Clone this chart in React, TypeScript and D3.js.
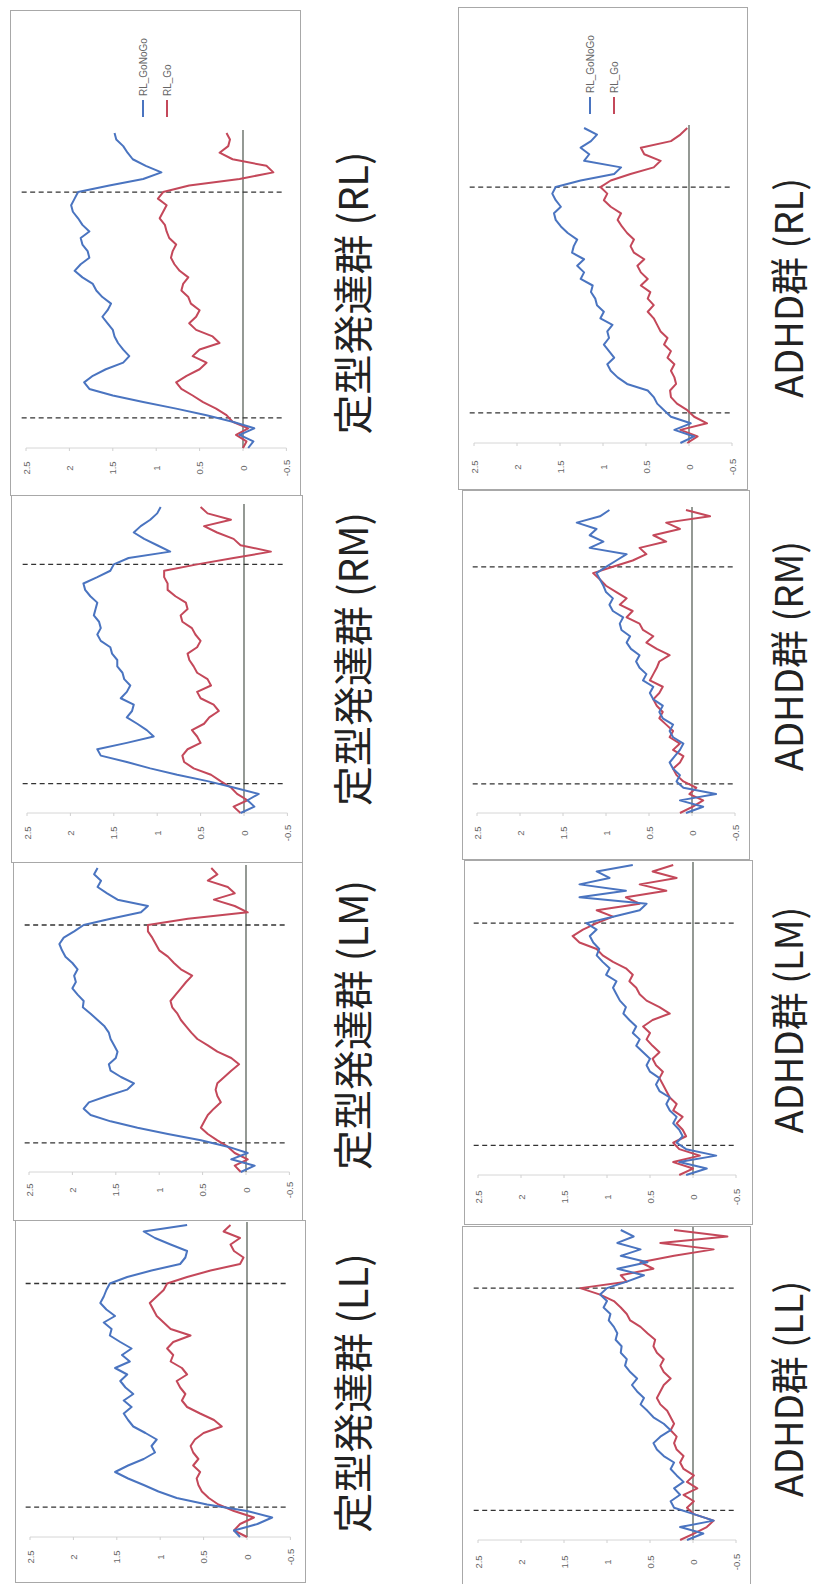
import React from 'react';
import * as d3 from 'd3';

// sample times (arbitrary units, 0..120); dashed markers at onset / offset
const SAMPLE_T = [0, 2.5, 5, 7.5, 10, 12.5, 15, 17.5, 20, 22.5, 25, 27.5, 30, 32.5, 35, 37.5, 40, 42.5, 45, 47.5, 50, 52.5, 55, 57.5, 60, 62.5, 65, 67.5, 70, 72.5, 75, 77.5, 80, 82.5, 85, 87.5, 90, 92.5, 95, 97.5, 100, 102.5, 105, 107.5, 110, 112.5, 115, 117.5, 120];
const ONSET_T = 11.5;
const OFFSET_T = 97.5;
const VALUE_TICKS = [2.5, 2, 1.5, 1, 0.5, 0, -0.5];
const SERIES_NAMES = ['RL_GoNoGo', 'RL_Go'];

// 定型発達群
const td_RL_GoNoGo = [-0.06, -0.12, 0.04, -0.13, 0.12, 0.42, 0.77, 1.15, 1.50, 1.77, 1.83, 1.73, 1.58, 1.38, 1.31, 1.38, 1.44, 1.48, 1.50, 1.56, 1.62, 1.56, 1.52, 1.62, 1.69, 1.73, 1.85, 1.94, 1.87, 1.77, 1.79, 1.85, 1.87, 1.77, 1.85, 1.90, 1.96, 1.98, 1.94, 1.90, 1.54, 1.15, 0.94, 1.12, 1.27, 1.33, 1.38, 1.46, 1.48];
const td_RL_Go = [0.0, -0.04, 0.08, -0.06, 0.12, 0.19, 0.31, 0.46, 0.58, 0.71, 0.77, 0.65, 0.50, 0.42, 0.58, 0.50, 0.27, 0.35, 0.54, 0.62, 0.54, 0.50, 0.60, 0.63, 0.71, 0.69, 0.63, 0.73, 0.79, 0.83, 0.81, 0.77, 0.85, 0.88, 0.90, 0.96, 0.92, 0.88, 0.98, 0.92, 0.62, 0.04, -0.35, -0.27, 0.12, 0.27, 0.17, 0.15, 0.19];
const td_RM_GoNoGo = [0.04, -0.12, -0.04, -0.17, 0.12, 0.42, 0.77, 1.08, 1.35, 1.65, 1.69, 1.35, 1.04, 1.12, 1.23, 1.35, 1.29, 1.27, 1.42, 1.35, 1.31, 1.38, 1.40, 1.46, 1.46, 1.52, 1.54, 1.65, 1.69, 1.65, 1.67, 1.73, 1.71, 1.69, 1.77, 1.83, 1.85, 1.69, 1.54, 1.50, 1.33, 0.85, 1.00, 1.15, 1.27, 1.19, 1.08, 1.00, 0.96];
const td_RM_Go = [0.04, 0.12, -0.04, 0.08, 0.15, 0.27, 0.38, 0.58, 0.69, 0.71, 0.65, 0.50, 0.54, 0.60, 0.46, 0.40, 0.29, 0.35, 0.50, 0.54, 0.38, 0.42, 0.54, 0.58, 0.63, 0.65, 0.54, 0.50, 0.56, 0.60, 0.71, 0.73, 0.65, 0.67, 0.79, 0.88, 0.88, 0.92, 0.92, 0.54, 0.12, -0.31, 0.04, 0.12, 0.31, 0.46, 0.15, 0.42, 0.50];
const td_LM_GoNoGo = [0.06, -0.10, 0.17, -0.02, 0.21, 0.52, 0.90, 1.25, 1.56, 1.79, 1.87, 1.81, 1.60, 1.37, 1.29, 1.44, 1.56, 1.58, 1.50, 1.48, 1.52, 1.56, 1.58, 1.63, 1.71, 1.79, 1.88, 1.87, 1.94, 2.00, 1.96, 1.98, 1.94, 2.00, 2.08, 2.12, 2.15, 2.10, 1.98, 1.87, 1.56, 1.21, 1.13, 1.48, 1.60, 1.71, 1.67, 1.75, 1.71];
const td_LM_Go = [0.06, 0.13, -0.02, 0.13, 0.21, 0.33, 0.44, 0.52, 0.48, 0.44, 0.37, 0.29, 0.33, 0.35, 0.33, 0.25, 0.17, 0.08, 0.17, 0.33, 0.44, 0.56, 0.63, 0.69, 0.75, 0.79, 0.85, 0.87, 0.81, 0.75, 0.69, 0.62, 0.75, 0.83, 0.90, 1.00, 1.04, 1.08, 1.13, 1.13, 0.67, -0.02, 0.13, 0.37, 0.13, 0.21, 0.44, 0.33, 0.40];
const td_LL_GoNoGo = [0.08, 0.15, -0.12, -0.29, 0.0, 0.46, 0.81, 1.02, 1.19, 1.37, 1.52, 1.37, 1.19, 1.06, 1.10, 1.04, 1.17, 1.31, 1.37, 1.42, 1.33, 1.42, 1.31, 1.40, 1.46, 1.38, 1.52, 1.35, 1.44, 1.33, 1.46, 1.58, 1.56, 1.65, 1.52, 1.62, 1.69, 1.65, 1.62, 1.58, 1.38, 1.10, 0.77, 0.71, 0.69, 0.88, 1.06, 1.19, 0.69];
const td_LL_Go = [0.0, 0.15, 0.08, -0.08, 0.15, 0.33, 0.44, 0.52, 0.56, 0.58, 0.54, 0.62, 0.56, 0.62, 0.65, 0.60, 0.50, 0.29, 0.38, 0.54, 0.69, 0.75, 0.71, 0.77, 0.81, 0.69, 0.75, 0.88, 0.85, 0.92, 0.85, 0.65, 0.88, 0.96, 1.04, 1.08, 1.12, 1.04, 0.96, 0.92, 0.69, 0.42, 0.08, 0.04, 0.15, 0.19, 0.08, 0.27, 0.19];

// ADHD群
const adhd_RL_GoNoGo = [0.10, -0.06, 0.17, -0.02, 0.21, 0.29, 0.37, 0.41, 0.48, 0.72, 0.83, 0.91, 0.95, 0.87, 0.93, 0.99, 0.93, 0.95, 0.89, 1.03, 0.99, 1.07, 1.09, 1.14, 1.12, 1.26, 1.22, 1.30, 1.22, 1.36, 1.34, 1.30, 1.41, 1.49, 1.55, 1.57, 1.49, 1.55, 1.59, 1.55, 1.26, 0.87, 0.79, 1.22, 1.16, 1.26, 1.14, 1.07, 1.22];
const adhd_RL_Go = [0.02, -0.10, 0.10, -0.21, -0.06, 0.02, 0.14, 0.21, 0.22, 0.15, 0.17, 0.21, 0.17, 0.25, 0.21, 0.29, 0.25, 0.33, 0.37, 0.41, 0.48, 0.41, 0.48, 0.45, 0.56, 0.48, 0.56, 0.60, 0.52, 0.64, 0.68, 0.64, 0.72, 0.78, 0.83, 0.79, 0.91, 0.99, 0.95, 1.03, 0.91, 0.68, 0.41, 0.33, 0.52, 0.56, 0.21, 0.10, 0.02];
const adhd_RM_GoNoGo = [0.07, -0.13, 0.14, -0.28, 0.10, 0.18, 0.14, 0.22, 0.26, 0.20, 0.14, 0.10, 0.22, 0.26, 0.22, 0.34, 0.38, 0.34, 0.45, 0.49, 0.45, 0.57, 0.53, 0.61, 0.65, 0.61, 0.71, 0.76, 0.72, 0.82, 0.84, 0.80, 0.92, 0.96, 0.92, 1.00, 1.03, 1.07, 1.11, 1.00, 0.88, 0.76, 1.19, 1.03, 1.19, 1.11, 1.34, 1.07, 0.96];
const adhd_RM_Go = [0.14, -0.01, -0.13, 0.03, -0.05, 0.10, 0.18, 0.22, 0.14, 0.10, 0.22, 0.14, 0.26, 0.22, 0.30, 0.38, 0.34, 0.41, 0.45, 0.38, 0.34, 0.49, 0.45, 0.41, 0.38, 0.26, 0.41, 0.53, 0.45, 0.57, 0.61, 0.76, 0.69, 0.84, 0.76, 0.88, 1.00, 1.07, 1.15, 0.92, 0.69, 0.53, 0.61, 0.30, 0.45, 0.14, 0.30, -0.21, 0.07];
const adhd_LM_GoNoGo = [0.08, -0.16, 0.16, -0.27, 0.08, 0.19, 0.12, 0.16, 0.23, 0.19, 0.27, 0.31, 0.27, 0.39, 0.43, 0.39, 0.50, 0.54, 0.50, 0.58, 0.66, 0.62, 0.70, 0.66, 0.74, 0.81, 0.78, 0.85, 0.89, 0.93, 0.89, 1.01, 0.97, 1.05, 1.12, 1.09, 1.16, 1.20, 1.12, 1.24, 0.93, 0.62, 0.54, 1.32, 0.78, 1.32, 0.97, 1.12, 0.70];
const adhd_LM_Go = [0.16, 0.0, 0.23, -0.08, 0.16, 0.23, 0.08, 0.12, 0.19, 0.12, 0.23, 0.19, 0.27, 0.31, 0.35, 0.39, 0.35, 0.43, 0.47, 0.39, 0.47, 0.54, 0.50, 0.58, 0.47, 0.27, 0.39, 0.54, 0.62, 0.66, 0.74, 0.70, 0.78, 0.93, 1.05, 1.12, 1.32, 1.40, 1.28, 1.12, 0.93, 1.12, 0.62, 0.78, 0.31, 0.62, 0.19, 0.47, 0.23];
const adhd_LL_GoNoGo = [0.07, -0.12, 0.15, -0.24, -0.01, 0.22, 0.26, 0.15, 0.22, 0.11, 0.19, 0.26, 0.22, 0.34, 0.42, 0.46, 0.38, 0.26, 0.34, 0.46, 0.53, 0.61, 0.57, 0.65, 0.71, 0.65, 0.73, 0.79, 0.77, 0.84, 0.83, 0.90, 0.88, 0.92, 0.98, 0.96, 1.04, 1.00, 1.08, 1.00, 0.77, 0.57, 0.88, 0.53, 0.84, 0.61, 0.88, 0.69, 0.84];
const adhd_LL_Go = [0.15, -0.01, -0.16, -0.24, -0.01, 0.07, -0.01, 0.11, -0.05, 0.07, -0.01, 0.11, 0.15, 0.11, 0.19, 0.22, 0.19, 0.26, 0.22, 0.26, 0.30, 0.38, 0.42, 0.38, 0.34, 0.26, 0.34, 0.38, 0.34, 0.42, 0.46, 0.44, 0.53, 0.61, 0.73, 0.77, 0.84, 0.92, 1.08, 1.31, 0.77, 0.84, 0.46, 0.61, 0.22, -0.24, 0.38, -0.40, 0.22];

const TD_LABEL = '定型発達群';
const ADHD_LABEL = 'ADHD群';

// layout (pixel geometry of each panel in the page)
type Layout = {
  box: [number, number, number, number];
  zeroX: number; unit: number; axisY: number; topY: number; tickY: number;
  labelX: number; labelY: number; labelSize: number;
  legend?: { x1: number; x2: number };
};

const PANELS: { group: string; region: string; blue: number[]; red: number[]; layout: Layout }[] = [
  { group: TD_LABEL, region: 'RL', blue: td_RL_GoNoGo, red: td_RL_Go,
    layout: { box: [10, 10, 300, 495], zeroX: 243, unit: 86.8, axisY: 448, topY: 133, tickY: 468, labelX: 351, labelY: 293, labelSize: 40, legend: { x1: 143, x2: 167 } } },
  { group: TD_LABEL, region: 'RM', blue: td_RM_GoNoGo, red: td_RM_Go,
    layout: { box: [11, 495, 302, 862], zeroX: 244, unit: 86.8, axisY: 813, topY: 507, tickY: 833, labelX: 351, labelY: 659, labelSize: 40 } },
  { group: TD_LABEL, region: 'LM', blue: td_LM_GoNoGo, red: td_LM_Go,
    layout: { box: [13, 862, 302, 1220], zeroX: 246, unit: 86.8, axisY: 1172, topY: 868, tickY: 1190, labelX: 351, labelY: 1025, labelSize: 40 } },
  { group: TD_LABEL, region: 'LL', blue: td_LL_GoNoGo, red: td_LL_Go,
    layout: { box: [15, 1220, 305, 1582], zeroX: 247, unit: 86.8, axisY: 1537, topY: 1225, tickY: 1557, labelX: 351, labelY: 1393, labelSize: 40 } },
  { group: ADHD_LABEL, region: 'RL', blue: adhd_RL_GoNoGo, red: adhd_RL_Go,
    layout: { box: [458, 7, 747, 489], zeroX: 689, unit: 86, axisY: 443, topY: 128, tickY: 467, labelX: 786, labelY: 288, labelSize: 38, legend: { x1: 590, x2: 614 } } },
  { group: ADHD_LABEL, region: 'RM', blue: adhd_RM_GoNoGo, red: adhd_RM_Go,
    layout: { box: [462, 490, 749, 859], zeroX: 692, unit: 86, axisY: 813, topY: 510, tickY: 833, labelX: 786, labelY: 656, labelSize: 38 } },
  { group: ADHD_LABEL, region: 'LM', blue: adhd_LM_GoNoGo, red: adhd_LM_Go,
    layout: { box: [464, 860, 752, 1224], zeroX: 693, unit: 86, axisY: 1175, topY: 865, tickY: 1197, labelX: 786, labelY: 1020, labelSize: 38 } },
  { group: ADHD_LABEL, region: 'LL', blue: adhd_LL_GoNoGo, red: adhd_LL_Go,
    layout: { box: [462, 1226, 750, 1590], zeroX: 693, unit: 86, axisY: 1540, topY: 1230, tickY: 1562, labelX: 786, labelY: 1389, labelSize: 38 } },
];

const BLUE = '#4a74c0';
const RED = '#c4485a';

function Panel({ group, region, blue, red, layout }: typeof PANELS[number]) {
  const L = layout;
  const xv = d3.scaleLinear().domain([0, 1]).range([L.zeroX, L.zeroX - L.unit]);
  const yt = d3.scaleLinear().domain([0, 120]).range([L.axisY, L.topY]);
  const line = d3.line<number>().x((v) => xv(v)).y((_, i) => yt(SAMPLE_T[i])).curve(d3.curveLinear);
  const [bx0, by0, bx1, by1] = L.box;
  return (
    <g>
      <rect x={bx0 + 0.5} y={by0 + 0.5} width={bx1 - bx0} height={by1 - by0} fill="#fff" stroke="#a8a8a8" strokeWidth={1} />
      {/* value axis (faint) */}
      <line x1={xv(2.5)} x2={xv(-0.5)} y1={L.axisY} y2={L.axisY} stroke="#d6d6d6" strokeWidth={1} />
      {VALUE_TICKS.map((t) => (
        <g key={t}>
          <line x1={xv(t)} x2={xv(t)} y1={L.axisY} y2={L.axisY + 3} stroke="#d0d0d0" />
          <text transform={`translate(${xv(t)},${L.tickY}) rotate(-90)`} textAnchor="middle" dominantBaseline="central"
            fontSize={9.5} fill="#666" fontFamily="Liberation Sans, Arial, sans-serif">{String(t)}</text>
        </g>
      ))}
      {/* zero line */}
      <line x1={xv(0)} x2={xv(0)} y1={L.topY - 3} y2={L.axisY} stroke="#3d463d" strokeWidth={1.1} />
      {/* onset / offset markers */}
      {[ONSET_T, OFFSET_T].map((t) => (
        <line key={t} x1={xv(2.55)} x2={xv(-0.48)} y1={yt(t)} y2={yt(t)} stroke="#333" strokeWidth={1.3} strokeDasharray="5,3.5" />
      ))}
      <path d={line(red) || ''} fill="none" stroke={RED} strokeWidth={2} strokeLinejoin="round" />
      <path d={line(blue) || ''} fill="none" stroke={BLUE} strokeWidth={2} strokeLinejoin="round" />
      {L.legend && (
        <g fontFamily="Liberation Sans, Arial, sans-serif" fontSize={10} fill="#666">
          {[L.legend.x1, L.legend.x2].map((lx, i) => (
            <g key={i}>
              <line x1={lx} x2={lx} y1={L.box[1] + 90} y2={L.box[1] + 107} stroke={i === 0 ? BLUE : RED} strokeWidth={2} />
              <text transform={`translate(${lx},${L.box[1] + 86}) rotate(-90)`} textAnchor="start" dominantBaseline="central">{SERIES_NAMES[i]}</text>
            </g>
          ))}
        </g>
      )}
      <text transform={`translate(${L.labelX},${L.labelY}) rotate(-90)`} textAnchor="middle" dominantBaseline="central"
        fontSize={L.labelSize} fill="#222" fontFamily="'Noto Sans CJK JP', 'Noto Sans', sans-serif">{`${group} (${region})`}</text>
    </g>
  );
}

export default function App() {
  return (
    <svg width={815} height={1584} viewBox="0 0 815 1584" style={{ position: 'absolute', left: 0, top: 0, background: '#fff' }}>
      <rect x={0} y={0} width={815} height={1584} fill="#fff" />
      {PANELS.map((p) => (
        <Panel key={p.group + p.region} {...p} />
      ))}
    </svg>
  );
}
